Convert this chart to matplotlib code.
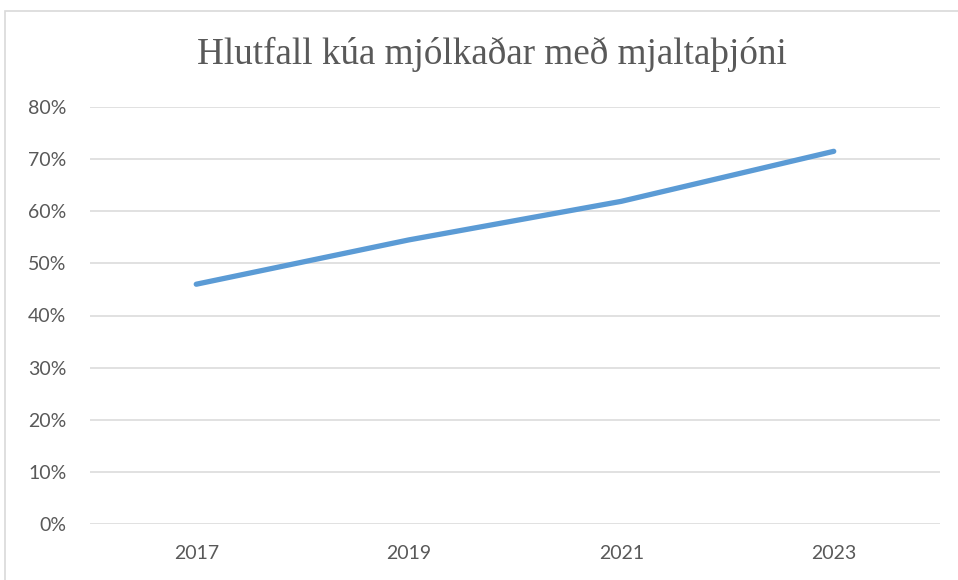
import matplotlib
matplotlib.use('Agg')
import matplotlib.pyplot as plt
from matplotlib.patches import Rectangle
from matplotlib.ticker import FuncFormatter

# data
years = ['2017', '2019', '2021', '2023']
share = [0.46, 0.545, 0.619, 0.715]
title = 'Hlutfall kúa mjólkaðar með mjaltaþjóni'

fig = plt.figure(figsize=(9.58, 5.8), dpi=100)
ax = fig.add_axes([90/958, 56/580, 850/958, 417/580])

# chart border
fig.patches.append(Rectangle((5/958, -0.1), 1.2, (580-11)/580 + 0.1, transform=fig.transFigure,
                             fill=False, edgecolor='#D9D9D9', linewidth=1.2))

x = list(range(len(years)))
ax.plot(x, share, color='#5B9BD5', linewidth=3.8, solid_capstyle='round', solid_joinstyle='round', zorder=3)

ax.set_xlim(-0.5, len(years) - 0.5)
ax.set_ylim(0, 0.8)
ax.set_yticks([i/10 for i in range(9)])
ax.yaxis.set_major_formatter(FuncFormatter(lambda v, p: '%d%%' % round(v*100)))
ax.set_xticks(x)
ax.set_xticklabels(years)
ax.grid(axis='y', color='#D9D9D9', linewidth=1.1)
ax.set_axisbelow(True)
for s in ax.spines.values():
    s.set_visible(False)
ax.tick_params(length=0, labelsize=14, labelcolor='#595959')
ax.tick_params(axis='y', pad=17)
ax.tick_params(axis='x', pad=15)
for lab in ax.get_xticklabels() + ax.get_yticklabels():
    lab.set_family('Lato')

fig.text(492/958, (580-54)/580, title, ha='center', va='center', fontsize=26.7,
         family='Liberation Serif', color='#595959')

fig.savefig('out.png', dpi=100)
